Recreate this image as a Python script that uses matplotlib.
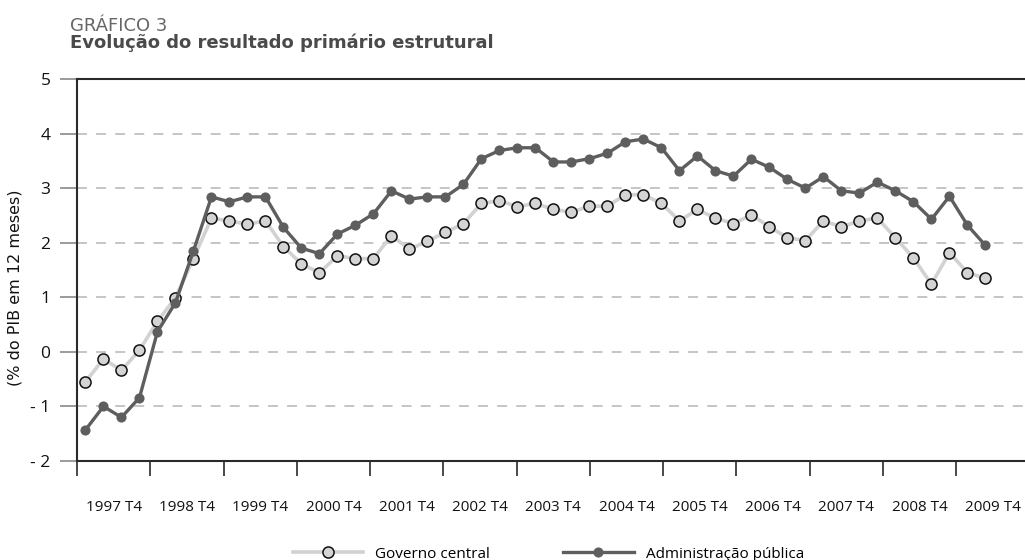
import numpy as np
import matplotlib
matplotlib.use("Agg")
import matplotlib.pyplot as plt
from matplotlib.lines import Line2D

plt.rcParams['font.family'] = ['Open Sans', 'DejaVu Sans']

# quarterly series, 1997 T1 .. 2009 T3 (% do PIB em 12 meses)
governo_central = [-0.55, -0.13, -0.34, 0.03, 0.56, 0.99, 1.71, 2.45, 2.40, 2.34,
                   2.40, 1.93, 1.61, 1.45, 1.76, 1.71, 1.71, 2.13, 1.88, 2.03,
                   2.19, 2.35, 2.72, 2.77, 2.66, 2.72, 2.61, 2.56, 2.67, 2.67,
                   2.88, 2.88, 2.72, 2.40, 2.61, 2.45, 2.35, 2.51, 2.29, 2.09,
                   2.04, 2.40, 2.29, 2.40, 2.45, 2.09, 1.72, 1.24, 1.82, 1.45,
                   1.35]
adm_publica = [-1.43, -1.00, -1.20, -0.84, 0.37, 0.90, 1.85, 2.84, 2.75, 2.84,
               2.84, 2.28, 1.90, 1.80, 2.16, 2.32, 2.53, 2.95, 2.80, 2.84,
               2.84, 3.07, 3.54, 3.69, 3.74, 3.74, 3.48, 3.48, 3.54, 3.64,
               3.85, 3.90, 3.74, 3.32, 3.59, 3.32, 3.22, 3.53, 3.38, 3.16,
               3.00, 3.21, 2.95, 2.91, 3.11, 2.95, 2.75, 2.43, 2.85, 2.32,
               1.95]
year_labels = ["1997 T4", "1998 T4", "1999 T4", "2000 T4", "2001 T4", "2002 T4",
               "2003 T4", "2004 T4", "2005 T4", "2006 T4", "2007 T4", "2008 T4",
               "2009 T4"]
y_values = [-2, -1, 0, 1, 2, 3, 4, 5]
y_labels = ["- 2", "- 1", "0", "1", "2", "3", "4", "5"]

x = np.arange(len(governo_central))

fig = plt.figure(figsize=(10.25, 5.6), dpi=100)
ax = fig.add_axes([77/1025, 99/560, 948/1025, 382/560])

x0 = -0.47
year_w = 4.07
ax.set_xlim(x0, x0 + 948/18.0)
ax.set_ylim(-2, 5)

# grid
for v in y_values[1:-1]:
    ax.axhline(v, color='#b5b5b5', lw=1.1, ls=(0, (6.5, 6)), zorder=1)

ax.plot(x, governo_central, color='#d2d2d2', lw=2.6, marker='o', ms=8,
        mfc='#d4d4d4', mec='#111111', mew=1.1, zorder=3)
ax.plot(x, adm_publica, color='#5e5e5e', lw=2.4, marker='o', ms=7.3,
        mfc='#5e5e5e', mec='#5e5e5e', mew=0, zorder=4)

# axes cosmetics
for s in ['left', 'top', 'bottom']:
    ax.spines[s].set_color('#2a2a2a')
    ax.spines[s].set_linewidth(1.5)
ax.spines['right'].set_visible(False)

ax.set_yticks(y_values)
ax.set_yticklabels(y_labels, fontsize=12.5, color='#111111')
ax.tick_params(axis='y', length=12, width=1.2, color='#8a8a8a', pad=7)

ticks = x0 + year_w * np.arange(len(year_labels))
ax.set_xticks(ticks)
ax.set_xticklabels([])
ax.tick_params(axis='x', which='major', length=10.5, width=1.2, color='#2a2a2a')
ax.set_xticks(ticks + year_w / 2, minor=True)
ax.set_xticklabels(year_labels, minor=True, fontsize=11, color='#111111')
ax.tick_params(axis='x', which='minor', length=0, pad=28)

fig.text(15/1025, 1 - 288/560, "(% do PIB em 12 meses)", rotation=90,
         ha='center', va='center', fontsize=11.5, color='#111111',
         family='DejaVu Sans')

fig.text(70/1025, 1 - 31/560, "GRÁFICO 3", fontsize=13, color='#666666',
         va='baseline', ha='left', family='DejaVu Sans')
fig.text(70/1025, 1 - 47.5/560, "Evolução do resultado primário estrutural",
         fontsize=13, fontweight='bold', color='#4a4a4a',
         va='baseline', ha='left', family='DejaVu Sans')

handles = [Line2D([], [], color='#d2d2d2', lw=2.6, marker='o', ms=8,
                  mfc='#d4d4d4', mec='#111111', mew=1.1),
           Line2D([], [], color='#5e5e5e', lw=2.4, marker='o', ms=7.3,
                  mfc='#5e5e5e', mew=0)]
fig.legend(handles, ["Governo central", "Administração pública"],
           loc='center', bbox_to_anchor=(0.535, 1 - 554/560), ncol=2,
           frameon=False, fontsize=11, handlelength=4.6, columnspacing=4.8,
           handletextpad=0.8)

fig.savefig("out.png", dpi=100)
